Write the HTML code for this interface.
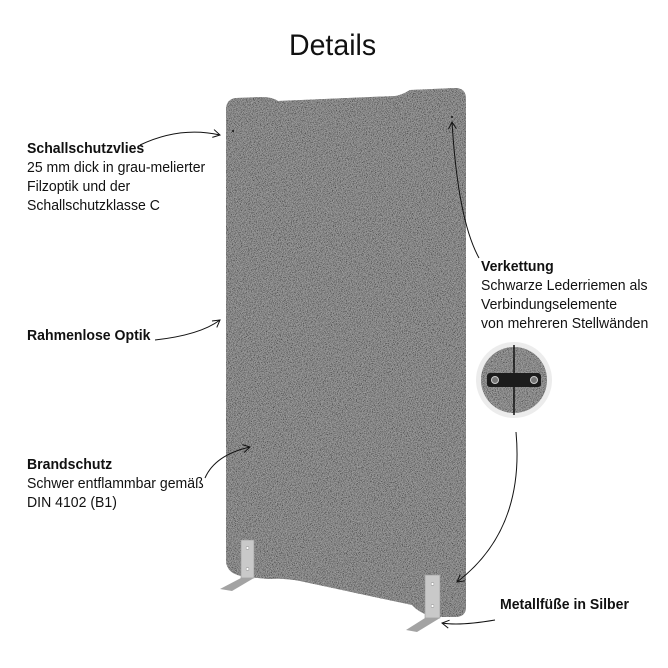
<!DOCTYPE html>
<html><head><meta charset="utf-8"><style>
body{margin:0;width:668px;height:668px;background:#fff;overflow:hidden;position:relative;font-family:"Liberation Sans Narrow","Liberation Sans",sans-serif;color:#111}
.t{position:absolute;font-size:14.5px;line-height:19px;white-space:nowrap;transform-origin:0 0;transform:scaleX(0.97)}
.b{font-weight:bold}
svg{position:absolute;left:0;top:0}
</style></head><body>
<svg width="668" height="668" viewBox="0 0 668 668">
<defs>
<filter id="n" x="0" y="0" width="100%" height="100%">
<feTurbulence type="fractalNoise" baseFrequency="1.2" numOctaves="2" seed="3"/>
<feColorMatrix values="1.5 0 0 0 -0.4  1.5 0 0 0 -0.4  1.5 0 0 0 -0.4  0 0 0 0 0.5"/>
<feComposite in2="SourceGraphic" operator="in"/>
</filter>
<marker id="a" markerWidth="10" markerHeight="10" refX="8" refY="5" orient="auto" markerUnits="userSpaceOnUse"><path d="M1,1 L8,5 L1,9" fill="none" stroke="#111" stroke-width="1"/></marker>
<clipPath id="c"><circle cx="514" cy="380" r="33"/></clipPath>
</defs>
<path d="M236,98 L262,97 Q272,97 278,101 L395,96 Q402,95 410,90 L455,88 Q466,88 466,99 L466,607 Q466,617 455,617 L435,617 Q420,614 412,605 L300,581 Q285,578 268,579 L247,577 Q226,575 226,560 L226,110 Q226,99 236,98 Z" fill="#6f6f6f"/>
<path d="M236,98 L262,97 Q272,97 278,101 L395,96 Q402,95 410,90 L455,88 Q466,88 466,99 L466,607 Q466,617 455,617 L435,617 Q420,614 412,605 L300,581 Q285,578 268,579 L247,577 Q226,575 226,560 L226,110 Q226,99 236,98 Z" fill="#888" filter="url(#n)"/>
<rect x="241" y="540" width="13" height="38" fill="#c9c9c9" stroke="#999" stroke-width="0.6"/>
<circle cx="247.5" cy="548" r="1.5" fill="#fff" stroke="#888" stroke-width="0.5"/><circle cx="247.5" cy="569" r="1.5" fill="#fff" stroke="#888" stroke-width="0.5"/>
<polygon points="241,578 254,578 232,591 220,589" fill="#a3a3a3"/>
<rect x="425" y="575" width="15" height="43" fill="#c9c9c9" stroke="#999" stroke-width="0.6"/>
<circle cx="432.5" cy="584" r="1.5" fill="#fff" stroke="#888" stroke-width="0.5"/><circle cx="432.5" cy="606" r="1.5" fill="#fff" stroke="#888" stroke-width="0.5"/>
<polygon points="425,618 440,618 417,632 406,630" fill="#a3a3a3"/>
<circle cx="233" cy="131" r="1" fill="#111"/><circle cx="452" cy="117" r="1" fill="#111"/>
<circle cx="514" cy="380" r="38" fill="#ececec"/>
<g clip-path="url(#c)"><rect x="480" y="346" width="70" height="70" fill="#757575"/><rect x="480" y="346" width="70" height="70" fill="#888" filter="url(#n)"/></g>
<line x1="514" y1="345" x2="514" y2="415" stroke="#111" stroke-width="1.5"/>
<rect x="487" y="373" width="54" height="14" rx="3" fill="#1c1c1c"/>
<circle cx="495" cy="380" r="3.5" fill="#777" stroke="#ccc" stroke-width="1"/><circle cx="534" cy="380" r="3.5" fill="#777" stroke="#ccc" stroke-width="1"/>
<g fill="none" stroke="#111" stroke-width="1" marker-end="url(#a)">
<path d="M140,145 Q180,126 220,135"/>
<path d="M155,340 Q200,335 220,320"/>
<path d="M205,478 Q215,455 250,447"/>
<path d="M479,258 Q458,220 452,122"/>
<path d="M516,432 Q525,530 457,582"/>
<path d="M495,620 Q460,626 442,623"/>
</g>
</svg>
<div class="t" style="left:289px;top:28px;font-size:30px;line-height:36px;transform:scaleX(0.95)">Details</div>
<div class="t" style="left:27px;top:140px"><span class="b">Schallschutzvlies</span><br>25 mm dick in grau-melierter<br>Filzoptik und der<br>Schallschutzklasse C</div>
<div class="t b" style="left:27px;top:327px">Rahmenlose Optik</div>
<div class="t" style="left:27px;top:456px"><span class="b">Brandschutz</span><br>Schwer entflammbar gemäß<br>DIN 4102 (B1)</div>
<div class="t" style="left:481px;top:258px"><span class="b">Verkettung</span><br>Schwarze Lederriemen als<br>Verbindungselemente<br>von mehreren Stellwänden</div>
<div class="t b" style="left:500px;top:596px">Metallfüße in Silber</div>
</body></html>
